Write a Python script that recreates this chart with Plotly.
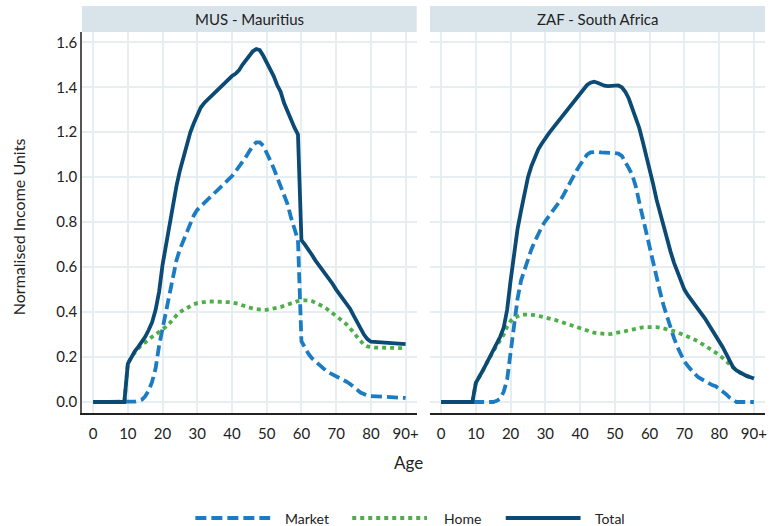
import plotly.graph_objects as go

# ---- data -------------------------------------------------------------
ages = list(range(0, 91))
age_ticks = [0, 10, 20, 30, 40, 50, 60, 70, 80, 90]
age_tick_labels = ["0", "10", "20", "30", "40", "50", "60", "70", "80", "90+"]
value_ticks = [0.0, 0.2, 0.4, 0.6, 0.8, 1.0, 1.2, 1.4, 1.6]

panels = ["MUS - Mauritius", "ZAF - South Africa"]

mus_market = [
    0, 0, 0, 0, 0, 0, 0, 0, 0, 0,
    0, 0.0, 0.002, 0.005, 0.01, 0.025, 0.05, 0.09, 0.15, 0.25,
    0.33, 0.41, 0.49, 0.57, 0.63, 0.68, 0.72, 0.76, 0.80, 0.83,
    0.855, 0.87, 0.885, 0.90, 0.915, 0.93, 0.945, 0.955, 0.97, 0.99,
    1.005, 1.025, 1.045, 1.07, 1.09, 1.115, 1.14, 1.155, 1.155, 1.14,
    1.11, 1.075, 1.04, 1.00, 0.97, 0.93, 0.88, 0.82, 0.77, 0.72,
    0.27, 0.24, 0.215, 0.195, 0.18, 0.165, 0.152, 0.14, 0.13, 0.122,
    0.115, 0.11, 0.10, 0.09, 0.08, 0.07, 0.055, 0.042, 0.033, 0.028,
    0.026, 0.025, 0.025, 0.024, 0.024, 0.023, 0.022, 0.021, 0.02, 0.019,
    0.018,
]
mus_home = [
    0, 0, 0, 0, 0, 0, 0, 0, 0, 0,
    0.17, 0.20, 0.22, 0.24, 0.255, 0.265, 0.28, 0.29, 0.30, 0.31,
    0.32, 0.335, 0.35, 0.37, 0.385, 0.40, 0.41, 0.42, 0.43, 0.435,
    0.44, 0.443, 0.445, 0.447, 0.447, 0.447, 0.447, 0.447, 0.446, 0.444,
    0.442, 0.44, 0.436, 0.43, 0.424, 0.42, 0.416, 0.413, 0.41, 0.41,
    0.41, 0.412, 0.415, 0.418, 0.422, 0.428, 0.434, 0.44, 0.445, 0.449,
    0.452, 0.453, 0.452, 0.449, 0.443, 0.435, 0.427, 0.418, 0.407, 0.395,
    0.382, 0.37, 0.358, 0.345, 0.33, 0.31, 0.29, 0.27, 0.255, 0.247,
    0.243, 0.242, 0.242, 0.241, 0.241, 0.241, 0.24, 0.24, 0.24, 0.24,
    0.239,
]
mus_total = [
    0, 0, 0, 0, 0, 0, 0, 0, 0, 0,
    0.17, 0.20, 0.225, 0.245, 0.265, 0.29, 0.32, 0.355, 0.41, 0.49,
    0.61, 0.70, 0.80, 0.88, 0.96, 1.03, 1.09, 1.15, 1.20, 1.24,
    1.28, 1.31, 1.33, 1.345, 1.36, 1.38, 1.395, 1.41, 1.42, 1.435,
    1.45, 1.46, 1.475, 1.50, 1.52, 1.54, 1.56, 1.57, 1.565, 1.54,
    1.51, 1.48, 1.45, 1.41, 1.38, 1.33, 1.29, 1.26, 1.22, 1.19,
    0.72, 0.70, 0.68, 0.655, 0.63, 0.61, 0.59, 0.57, 0.545, 0.525,
    0.50, 0.48, 0.46, 0.44, 0.415, 0.385, 0.355, 0.325, 0.30, 0.28,
    0.268, 0.267, 0.266, 0.266, 0.265, 0.264, 0.263, 0.262, 0.261, 0.259,
    0.257,
]

zaf_market = [
    0, 0, 0, 0, 0, 0, 0, 0, 0, 0,
    0, 0, 0, 0, 0, 0, 0.005, 0.015, 0.045, 0.10,
    0.22, 0.35, 0.46, 0.54, 0.59, 0.635, 0.68, 0.715, 0.75, 0.78,
    0.805, 0.825, 0.85, 0.87, 0.89, 0.915, 0.945, 0.975, 1.00, 1.03,
    1.055, 1.08, 1.10, 1.11, 1.113, 1.113, 1.11, 1.108, 1.108, 1.108,
    1.107, 1.105, 1.095, 1.07, 1.04, 1.01, 0.96, 0.89, 0.82, 0.75,
    0.68, 0.615, 0.55, 0.49, 0.43, 0.38, 0.33, 0.285, 0.245, 0.21,
    0.18, 0.16, 0.14, 0.125, 0.11, 0.10, 0.09, 0.082, 0.075, 0.07,
    0.06, 0.048, 0.035, 0.02, 0.008, 0.0, 0, 0, 0, 0,
    0,
]
zaf_home = [
    0, 0, 0, 0, 0, 0, 0, 0, 0, 0,
    0.085, 0.11, 0.14, 0.17, 0.20, 0.225, 0.25, 0.275, 0.30, 0.335,
    0.36, 0.375, 0.383, 0.387, 0.389, 0.389, 0.388, 0.386, 0.383, 0.38,
    0.377, 0.373, 0.369, 0.364, 0.359, 0.354, 0.348, 0.342, 0.336, 0.33,
    0.325, 0.32, 0.315, 0.311, 0.308, 0.306, 0.304, 0.302, 0.302, 0.303,
    0.305, 0.308, 0.311, 0.315, 0.319, 0.323, 0.327, 0.33, 0.332, 0.333,
    0.334, 0.334, 0.333, 0.331, 0.328, 0.324, 0.32, 0.315, 0.31, 0.304,
    0.297, 0.29, 0.284, 0.277, 0.269, 0.26, 0.25, 0.242, 0.232, 0.22,
    0.21, 0.195, 0.18, 0.165, 0.153, 0.14, 0.13, 0.122, 0.115, 0.11,
    0.104,
]
zaf_total = [
    0, 0, 0, 0, 0, 0, 0, 0, 0, 0,
    0.085, 0.11, 0.14, 0.17, 0.20, 0.225, 0.255, 0.29, 0.33, 0.41,
    0.54, 0.67, 0.77, 0.85, 0.93, 1.00, 1.05, 1.09, 1.125, 1.15,
    1.175, 1.195, 1.215, 1.235, 1.255, 1.275, 1.295, 1.315, 1.335, 1.355,
    1.375, 1.395, 1.41, 1.42, 1.425, 1.42, 1.412, 1.407, 1.405, 1.405,
    1.407, 1.408, 1.40, 1.38, 1.35, 1.31, 1.27, 1.22, 1.16, 1.10,
    1.04, 0.97, 0.90, 0.84, 0.78, 0.72, 0.67, 0.62, 0.58, 0.54,
    0.50, 0.475, 0.455, 0.43, 0.41, 0.39, 0.37, 0.345, 0.32, 0.30,
    0.275, 0.245, 0.215, 0.18, 0.155, 0.14, 0.13, 0.122, 0.115, 0.11,
    0.104,
]

# ---- styling ----------------------------------------------------------
FONT = "Lato, 'Open Sans', sans-serif"
TEXT = "#222222"
GRID = "#e6eef1"
STRIP = "#d9e4ea"
series_style = {
    "Market": dict(color="#1b7cc3", dash="11px,5px"),
    "Home": dict(color="#4caf48", dash="4px,4px"),
    "Total": dict(color="#0b4a74", dash="solid"),
}
LW = 3.8

W, H = 770, 526
ML, MR, MT, MB = 82, 3, 32, 113
PW = W - ML - MR
PH = H - MT - MB

def px_x(px):
    return (px - ML) / PW

def px_y(py):
    return (H - MB - py) / PH

domains = [[0.0, px_x(417.7)], [px_x(431.0), 1.0]]

fig = go.Figure()

country_data = [
    {"Market": mus_market, "Home": mus_home, "Total": mus_total},
    {"Market": zaf_market, "Home": zaf_home, "Total": zaf_total},
]

for i, cdata in enumerate(country_data):
    xa = "x" if i == 0 else "x2"
    ya = "y" if i == 0 else "y2"
    for name in ["Market", "Home", "Total"]:
        st = series_style[name]
        fig.add_trace(go.Scatter(
            x=ages, y=cdata[name], mode="lines", name=name,
            xaxis=xa, yaxis=ya, showlegend=False,
            line=dict(color=st["color"], width=LW, dash=st["dash"]),
            hoverinfo="skip",
        ))

x_common = dict(
    range=[-3.2, 93.2], tickvals=age_ticks, ticktext=age_tick_labels,
    showgrid=True, gridcolor=GRID, gridwidth=1.5, zeroline=False,
    showline=True, linecolor="#222222", linewidth=1.5,
    ticks="", ticklabelstandoff=6,
    tickfont=dict(family=FONT, size=15, color=TEXT),
)
y_common = dict(
    range=[-0.049, 1.6458], tickvals=value_ticks,
    showgrid=True, gridcolor=GRID, gridwidth=1.5, zeroline=False,
    ticks="", domain=[0, 1],
    tickfont=dict(family=FONT, size=15, color=TEXT),
)

fig.update_layout(
    width=W, height=H,
    margin=dict(l=ML, r=MR, t=MT, b=MB, pad=0),
    paper_bgcolor="white", plot_bgcolor="white",
    showlegend=False,
    xaxis=dict(domain=domains[0], anchor="y", **x_common),
    xaxis2=dict(domain=domains[1], anchor="y2", **x_common),
    yaxis=dict(anchor="x", showline=True, linecolor="#555555", linewidth=1.5,
               tickformat=".1f", **y_common),
    yaxis2=dict(anchor="x2", showline=False, showticklabels=False, **y_common),
)

shapes = []
annotations = []

# facet strips
for i, title in enumerate(panels):
    d = domains[i]
    shapes.append(dict(type="rect", xref="paper", yref="paper",
                       x0=d[0], x1=d[1], y0=1.0, y1=px_y(6),
                       fillcolor=STRIP, line=dict(width=0), layer="below"))
    annotations.append(dict(text=title, xref="paper", yref="paper",
                            x=(d[0] + d[1]) / 2, y=(1.0 + px_y(6)) / 2,
                            xanchor="center", yanchor="middle", showarrow=False,
                            font=dict(family=FONT, size=15, color=TEXT)))

# axis titles
annotations.append(dict(text="Age", xref="paper", yref="paper",
                        x=px_x(409), y=px_y(463), xanchor="center", yanchor="middle",
                        showarrow=False, font=dict(family=FONT, size=17, color=TEXT)))
annotations.append(dict(text="Normalised Income Units", xref="paper", yref="paper",
                        x=px_x(18), y=px_y(227), xanchor="center", yanchor="middle",
                        textangle=-90, showarrow=False,
                        font=dict(family=FONT, size=16, color=TEXT)))

# legend
legend_y = px_y(518)
legend_items = [("Market", 195.7, 270.7, 284), ("Home", 353, 428, 443), ("Total", 507, 582, 594)]
for name, x0, x1, tx in legend_items:
    st = series_style[name]
    shapes.append(dict(type="line", xref="paper", yref="paper",
                       x0=px_x(x0), x1=px_x(x1), y0=legend_y, y1=legend_y,
                       line=dict(color=st["color"], width=LW, dash=st["dash"])))
    annotations.append(dict(text=name, xref="paper", yref="paper",
                            x=px_x(tx), y=legend_y, xanchor="left", yanchor="middle",
                            showarrow=False, font=dict(family=FONT, size=14, color=TEXT)))

fig.update_layout(shapes=shapes, annotations=annotations)

fig.write_html("out.html")
